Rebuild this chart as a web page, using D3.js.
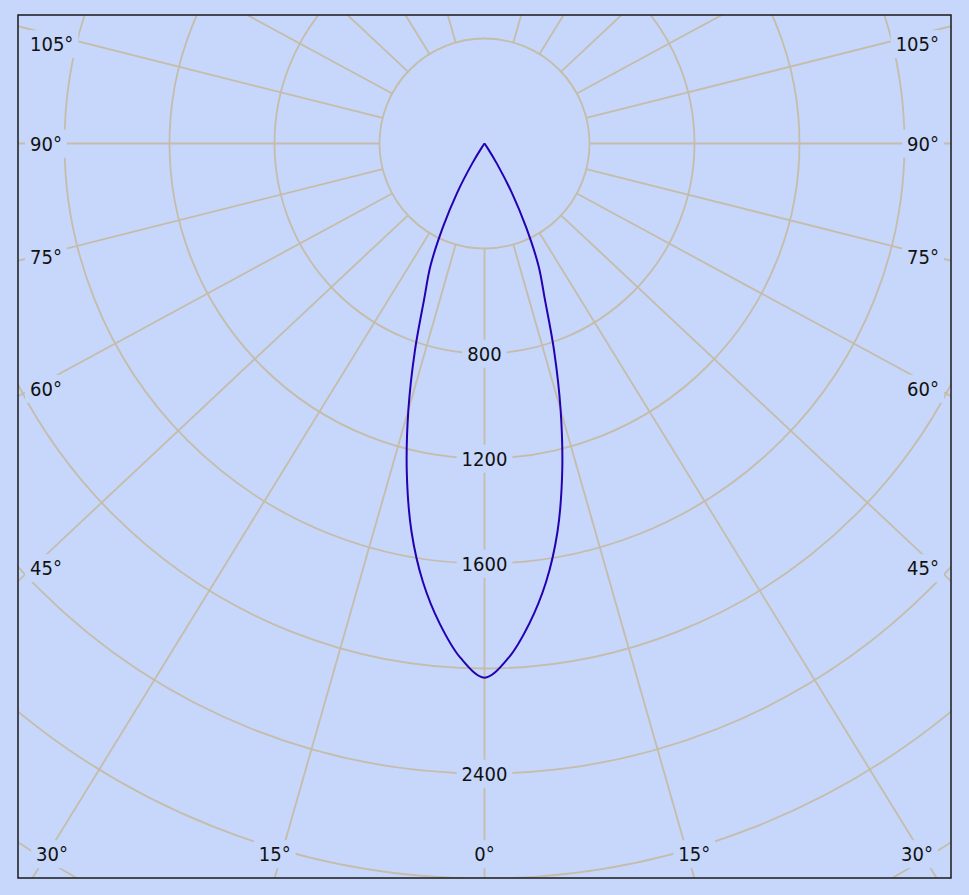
<!DOCTYPE html>
<html lang="en">
<head>
<meta charset="UTF-8">
<title>Luminous intensity</title>
<script src="https://d3js.org/d3.v7.min.js"></script>
<style>
  body { margin: 0; background: #c6d7fb; }
  svg text {
    font-family: "DejaVu Sans Condensed", "DejaVu Sans", sans-serif;
    font-size: 20px;
    fill: #111;
  }
</style>
</head>
<body>
<div id="chart"></div>
<script>
// intensity in cd (same on both sides of nadir)
var angles  = [0, 2.5, 5, 7.5, 10, 12.5, 15, 17.5, 20, 22.5, 25, 27.5, 30, 32.5, 35, 45, 60, 75, 90];
var candela = [2035, 1962, 1837, 1687, 1505, 1287, 1056, 832, 635, 510, 355, 215, 90, 20, 0, 0, 0, 0, 0];

// grid
var rings = [400, 800, 1200, 1600, 2000, 2400, 2800, 3200];
var ringLabels = [800, 1200, 1600, 2400];
var spokeStep = 15;

var W = 969, H = 895;
var frame = {x0: 18, y0: 15, x1: 951, y1: 878};
var cx = 484.5, cy = 143.5;
var bg = "#c6d7fb", gridColor = "#c5bca9", lineColor = "#2400b0";

var r = d3.scaleLinear().domain([0, 400]).range([0, 105]);

// the spokes in the reference are a bit stretched sideways
var stretch = 1.066;
function phi(deg) {
  var t = deg * Math.PI / 180;
  return Math.atan2(stretch * Math.sin(t), Math.cos(t));
}
function dir(deg) {
  var p = phi(deg);
  return [Math.sin(p), Math.cos(p)];   // x right, y down, 0 = nadir
}

var svg = d3.select("#chart").append("svg")
    .attr("width", W)
    .attr("height", H);

svg.append("rect").attr("width", W).attr("height", H).attr("fill", bg);

svg.append("clipPath").attr("id", "plot")
  .append("rect")
    .attr("x", frame.x0).attr("y", frame.y0)
    .attr("width", frame.x1 - frame.x0).attr("height", frame.y1 - frame.y0);

var grid = svg.append("g").attr("clip-path", "url(#plot)");

// rings
grid.selectAll("circle")
  .data(rings)
  .join("circle")
    .attr("cx", cx).attr("cy", cy)
    .attr("r", function(d) { return r(d); })
    .attr("fill", "none")
    .attr("stroke", gridColor)
    .attr("stroke-width", 1.8);

// spokes, starting at the inner ring
var spokes = [0];
for (var a = spokeStep; a < 180; a += spokeStep) { spokes.push(a, -a); }

grid.selectAll("line")
  .data(spokes)
  .join("line")
    .attr("x1", function(d) { return cx + r(rings[0]) * dir(d)[0]; })
    .attr("y1", function(d) { return cy + r(rings[0]) * dir(d)[1]; })
    .attr("x2", function(d) { return cx + 1400 * dir(d)[0]; })
    .attr("y2", function(d) { return cy + 1400 * dir(d)[1]; })
    .attr("stroke", gridColor)
    .attr("stroke-width", 1.8);

var labels = svg.append("g");

function addLabel(txt, x, y, anchor) {
  var t = labels.append("text")
    .attr("x", x).attr("y", y)
    .attr("dy", "0.36em")
    .attr("text-anchor", anchor)
    .text(txt);
  var b = t.node().getBBox();
  labels.insert("rect", "text:last-child")
    .attr("x", b.x - 5).attr("y", b.y - 2)
    .attr("width", b.width + 10).attr("height", b.height + 4)
    .attr("fill", bg);
  return t;
}

// ring values along the nadir
ringLabels.forEach(function(v) {
  addLabel(String(v), cx, cy + r(v), "middle");
});

// angle labels where the spokes leave the frame (not on the top edge)
spokes.forEach(function(d) {
  var v = dir(d);
  var tx = v[0] > 1e-9 ? (frame.x1 - cx) / v[0] : v[0] < -1e-9 ? (frame.x0 - cx) / v[0] : Infinity;
  var ty = v[1] > 1e-9 ? (frame.y1 - cy) / v[1] : v[1] < -1e-9 ? (frame.y0 - cy) / v[1] : Infinity;
  var txt = Math.abs(d) + "°";
  if (tx <= ty) {
    var left = v[0] < 0;
    var xe = left ? frame.x0 + 14 : frame.x1 - 14;
    var y = cy + ((xe - cx) / v[0]) * v[1];
    y = Math.max(frame.y0 + 29, Math.min(frame.y1 - 24, y));
    addLabel(txt, left ? frame.x0 + 12 : frame.x1 - 12, y, left ? "start" : "end");
  } else if (v[1] > 0) {
    var x = cx + ty * v[0];
    var half = 17;
    x = Math.max(frame.x0 + 17 + half, Math.min(frame.x1 - 17 - half, x));
    addLabel(txt, x, frame.y1 - 24, "middle");
  }
});

// intensity curve, mirrored left / right; it stops at the first zero so
// both ends meet in the centre as a sharp tip
var lit = 0;
while (lit < candela.length - 1 && candela[lit] > 0) lit++;
var pts = [];
for (var i = lit; i > 0; i--) pts.push([-angles[i], candela[i]]);
for (var j = 0; j <= lit; j++) pts.push([angles[j], candela[j]]);

var curve = d3.lineRadial()
    .angle(function(d) { return Math.PI - phi(d[0]); })
    .radius(function(d) { return r(d[1]); })
    .curve(d3.curveCatmullRom.alpha(0.5));

svg.append("path")
    .attr("transform", "translate(" + cx + "," + cy + ")")
    .attr("d", curve(pts))
    .attr("fill", "none")
    .attr("stroke", lineColor)
    .attr("stroke-width", 2);

// frame
svg.append("rect")
    .attr("x", frame.x0).attr("y", frame.y0)
    .attr("width", frame.x1 - frame.x0).attr("height", frame.y1 - frame.y0)
    .attr("fill", "none")
    .attr("stroke", "#1a1a1a")
    .attr("stroke-width", 1.5);
</script>
</body>
</html>
